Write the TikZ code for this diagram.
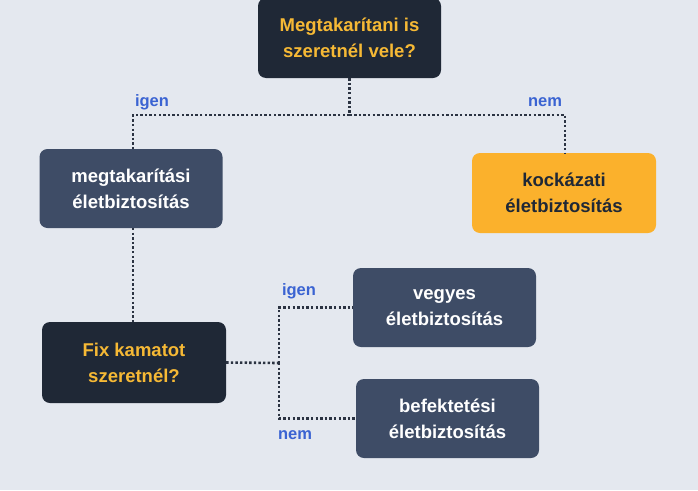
\documentclass[tikz,border=0pt]{standalone}
\usepackage{fontspec}
\setmainfont{Liberation Sans}
\definecolor{bg}{HTML}{E4E8EF}
\definecolor{darkbox}{HTML}{1F2836}
\definecolor{slatebox}{HTML}{3E4C66}
\definecolor{orangebox}{HTML}{FBB12C}
\definecolor{yellowtext}{HTML}{F6B935}
\definecolor{bluetext}{HTML}{3A63D2}
\definecolor{dotline}{HTML}{2B3342}
\begin{document}
\begin{tikzpicture}[x=1pt,y=-1pt,
  box/.style={rounded corners=8pt, minimum width=183pt, minimum height=79pt, align=center, inner sep=0pt,
    font=\fontsize{18.5}{26}\selectfont\bfseries},
  qbox/.style={box, fill=darkbox, text=yellowtext},
  sbox/.style={box, fill=slatebox, text=white},
  obox/.style={box, fill=orangebox, text=darkbox},
  conn/.style={draw=dotline, line width=2.6pt, dash pattern=on 2.4pt off 2.2pt},
  lbl/.style={text=bluetext, font=\fontsize{16.5}{20}\selectfont\bfseries, inner sep=0pt}]
\fill[bg] (0,0) rectangle (698,490);
\useasboundingbox (0,0) rectangle (698,490);
\node[qbox, minimum height=80pt] (top) at (349.5,38) {Megtakarítani is\\szeretnél vele?};
\node[sbox] (megt) at (131,188.5) {megtakarítási\\életbiztosítás};
\node[obox, minimum width=184pt, minimum height=80pt] (kock) at (564,193) {kockázati\\életbiztosítás};
\node[qbox, minimum width=184pt, minimum height=81pt] (fix) at (134,362.5) {Fix kamatot\\szeretnél?};
\node[sbox] (vegyes) at (444.5,307.5) {vegyes\\életbiztosítás};
\node[sbox] (befekt) at (447.5,418.5) {befektetési\\életbiztosítás};
\coordinate (j1) at (349.5,115);
\coordinate (j2) at (279,363);
\draw[conn] (top.south) -- (j1);
\draw[conn] (j1) -| (133,149) coordinate (e1);
\draw[conn] (j1) -| (565,153) coordinate (e2);
\draw[conn] (133,228) -- (133,322);
\draw[conn] (fix.east) -- (j2);
\draw[conn] (j2) |- (vegyes.west);
\draw[conn] (j2) |- (befekt.west);
\node[lbl] (l1) at (152,102) {igen};
\node[lbl] (l2) at (545,102) {nem};
\node[lbl] (l3) at (299,291) {igen};
\node[lbl] (l4) at (295,435) {nem};
\end{tikzpicture}
\end{document}
